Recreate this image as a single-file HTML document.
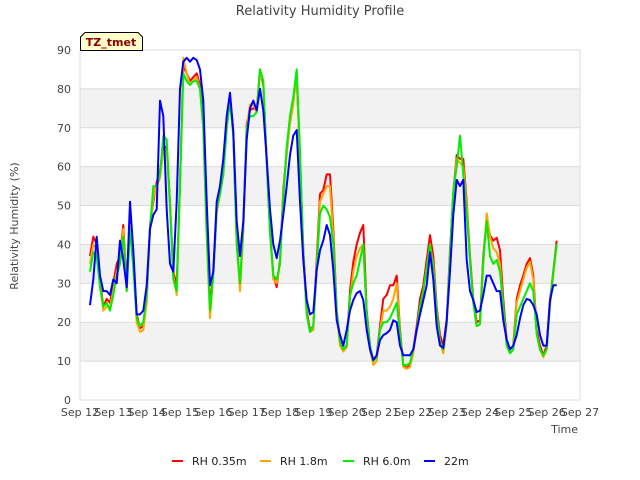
<!DOCTYPE html>
<html><head><meta charset="utf-8"><style>
body{margin:0;background:#fff;}
svg{display:block;font-family:"DejaVu Sans","Liberation Sans",sans-serif;}
</style></head><body>
<svg id="chart" width="640" height="480" viewBox="0 0 640 480" xmlns="http://www.w3.org/2000/svg">
<text x="320" y="15" text-anchor="middle" font-size="13" fill="#444">Relativity Humidity Profile</text>
<text transform="translate(18,226) rotate(-90)" text-anchor="middle" font-size="11" fill="#444">Relativity Humidity (%)</text>
<text x="578" y="433" text-anchor="end" font-size="11" fill="#444">Time</text>
<g id="bands"></g>
<g id="yticks"></g>
<g id="xticks"></g>
<rect x="80" y="50" width="500" height="350" fill="none" stroke="#ddd"/>
<g id="series"></g>
<g>
<path d="M80.5,50.5 L80.5,37 L85,32.5 L138,32.5 L142.5,37 L142.5,50.5 Z" fill="#ffffcc" stroke="#000" stroke-width="1"/>
<text x="111" y="46" text-anchor="middle" font-size="11" font-weight="bold" fill="#8b0000">TZ_tmet</text>
</g>
<g id="legend"></g>
</svg>
<script>
const dayLabels=["Sep 12","Sep 13","Sep 14","Sep 15","Sep 16","Sep 17","Sep 18","Sep 19","Sep 20","Sep 21","Sep 22","Sep 23","Sep 24","Sep 25","Sep 26","Sep 27"];
const yTicks=[0,10,20,30,40,50,60,70,80,90];
const tStart=0.3, tStep=0.1;
const rh035=[37,42,40,31,24,26,25,30,35,37,45,29,47,36,22,18.5,19,26,45,51,56,59,65,65,51,33,29.5,56,86,84,82,83,84,81,72,44,24,33,49,53,59,71,78,69,41,29.5,44,71,74.5,75,74.5,85,81,62,44,32,29,36,54,64,72,77,83.5,62,38.5,23,18,19,36,53,54,58,58,44,23,15.4,13,14,28,35.5,40,43,45,23,14,10,11.5,19,26,27,29.5,29.5,32,18,9,8.2,9,13,19,26,29.5,36,42.4,37,24,16.7,14,20.5,38.5,53,63,62,62,51,37,26,20,20.5,37,47,42.4,41,41.7,38.5,26,15.4,13,14,26,29.5,32,35,36.5,32,18,14,11.5,14,25.7,33,41];
const rh18=[35,40,39,30,23,24,24,28,33,36,44,28,45,35,20,17.5,18,25,44,52,55,57,64,64,50,32,27,57,88,84,81,82,83,80,70,42,21,32,48,53,58,70,77,68,40,28,43,70,76,76,74,84,82,61,43,31,30,35,53,63,71,76,84,61,37,22,17.5,18,34,51,53,55,55,42,22,14,12.5,13.5,26,33,37,39,40,22,13,9,10,18,23,23,24,26,30,17,8.5,8,8.5,12,18,24,28,34,40,35,23,15,12,19,37,52,62,61,60,50,36,25,19,19.5,35,48,42,39,38,35,24,14.5,12,13,25,28,31,34,35.5,31,17,13,11,13,24,32,40];
const rh60=[33,38,37,29,24,25,23,27,32,35,42,28,44,34,21,19,20,27,44,55,55,58,68,67,50,31,28,55,84,82,81,82,82,80,70,43,23,32,49,53,58,70,77,68,40,30,45,70,73,73,74,85,82,61,43,32,31,35,52,65,73,78,85,64,38,22,17.5,19,34,48,50,49,47,40,23,15,13,14,27,30,32,36,40,22,14,10,11,18,20,20,21,23,25,17,9,9,9.5,13,18,24,28,34,40,34,23,15,13,20,37,54,60,68,58,48,36,25,19,19.5,36,46,37,35,36,33,24,14,12,13,22,24,26,28,30,28,17,13,11.5,13,25,33,40];
const rh22=[24.4,31,42,32,28,28,27,31,30,41,36,29,51,38.5,22,22,23,29.5,44,47.6,49,77,73,49,35,33,51,80,87,88,87,88,87.4,85,77,51,29.5,33,51,55,62,73,79,69,46,37,46,67,75,77,74.5,80,74.5,62,49,40,36.5,41,47.6,55,63,68,69.4,51,36,25.7,22,22.6,33.4,38.5,41,45,42.4,33.4,20.5,16.7,14,18,23,25.7,27.5,28,25.7,18,13,10.3,11.5,15.4,16.7,17.2,18,20.5,20,14,11.5,11.5,11.5,13,18,22,25.7,29.5,38,31,19,14,13.4,20.5,33,47.6,56.6,55,56.6,36,28,25.7,22.6,23,27,32,32,30,28,28,20.5,15.4,13,14,16.7,21,24.4,26,25.7,24.4,22,16.7,14,14,25.7,29.5,29.5];
const seriesNames=["RH 0.35m","RH 1.8m","RH 6.0m","22m"];
const seriesColors=["#ff0000","#ffa500","#00ee00","#0000ff"];
const seriesData=[rh035,rh18,rh60,rh22];

const NS="http://www.w3.org/2000/svg";
const X0=80,X1=580,Y0=400,Y1=50,DMAX=15,VMAX=90;
function xs(d){return X0+(X1-X0)*d/DMAX;}
function ys(v){return Y0-(Y0-Y1)*v/VMAX;}
function mk(tag,attrs,parent){const e=document.createElementNS(NS,tag);for(const k in attrs)e.setAttribute(k,attrs[k]);parent.appendChild(e);return e;}

const bands=document.getElementById('bands');
for(let i=0;i<yTicks.length-1;i++){
  if(i%2===1){
    const r=mk('rect',{x:X0,y:ys(yTicks[i+1]),width:X1-X0,height:ys(yTicks[i])-ys(yTicks[i+1]),fill:'#f2f2f2'},bands);
    
    
  }
}
const yt=document.getElementById('yticks');
yTicks.forEach(v=>{
  const l=mk('line',{x1:X0,x2:X1,y1:ys(v),y2:ys(v),stroke:'#dcdcdc','stroke-width':1},yt);
  
  
  const t=mk('text',{x:X0-9,y:ys(v)+4,'text-anchor':'end','font-size':11,fill:'#444'},yt);
  t.textContent=v;
  
  
});
const xt=document.getElementById('xticks');
dayLabels.forEach((lab,i)=>{
  const t=mk('text',{x:xs(i),y:416,'text-anchor':'middle','font-size':11,fill:'#444'},xt);
  t.textContent=lab;
  
  
});
const sg=document.getElementById('series');
seriesData.forEach((arr,si)=>{
  const pts=arr.map((v,i)=>xs(tStart+i*tStep).toFixed(1)+','+ys(v).toFixed(1)).join(' ');
  const p=mk('polyline',{points:pts,fill:'none',stroke:seriesColors[si],'stroke-width':2,'stroke-linejoin':'round'},sg);
  
  
});
const lg=document.getElementById('legend');
const legX=[172,260,343,424];
seriesNames.forEach((n,i)=>{
  const g=mk('g',{},lg);
  
  
  mk('line',{x1:legX[i],x2:legX[i]+11,y1:461,y2:461,stroke:seriesColors[i],'stroke-width':2},g);
  const t=mk('text',{x:legX[i]+20,y:465,'font-size':11,fill:'#222'},g);
  t.textContent=n;
});
</script>
</body></html>
